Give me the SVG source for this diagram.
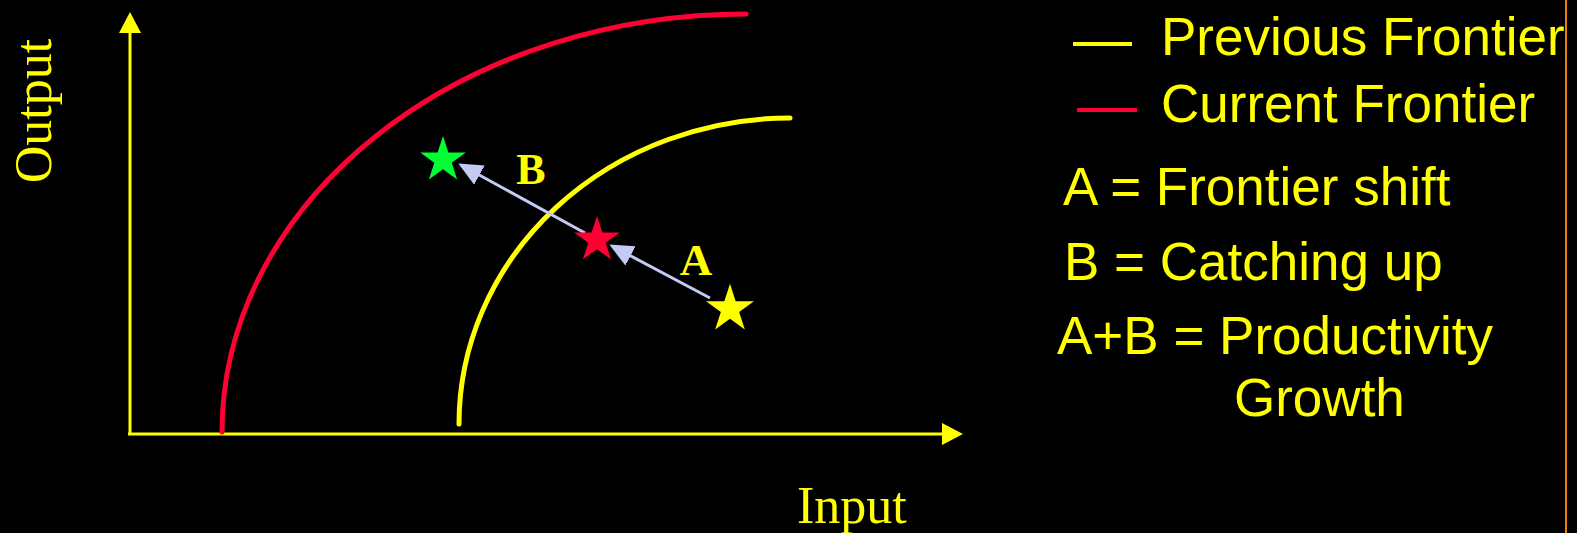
<svg xmlns="http://www.w3.org/2000/svg" width="1577" height="533" viewBox="0 0 1577 533">
<style>
.serif{font-family:"Liberation Serif","Times New Roman",serif;fill:#FFFF00}
.sans{font-family:"Liberation Sans",Arial,sans-serif;fill:#FFFF00;font-size:53px}
.axis{stroke:#FFFF00;stroke-width:3;fill:none}
.arr{stroke:#C3CAF5;stroke-width:3;fill:none;marker-end:url(#ah)}
.curve{stroke-width:5;fill:none;stroke-linecap:round}
</style>
<defs>
<polygon id="star" points="0,-24 5.39,-7.42 22.83,-7.42 8.72,2.83 14.11,19.42 0,9.17 -14.11,19.42 -8.72,2.83 -22.83,-7.42 -5.39,-7.42"/>
<marker id="ah" markerUnits="userSpaceOnUse" markerWidth="26" markerHeight="24" refX="21" refY="11" orient="auto">
<path d="M0,0 L24,11 L0,22 z" fill="#C3CAF5"/>
</marker>
</defs>
<rect width="1577" height="533" fill="#000"/>
<line x1="1566" y1="0" x2="1566" y2="533" stroke="#E8820C" stroke-width="2"/>
<g id="axes">
<line class="axis" x1="130" y1="434" x2="130" y2="32"/>
<polygon points="130,12 119,33 141,33" fill="#FFFF00"/>
<line class="axis" x1="128" y1="434" x2="943" y2="434"/>
<polygon points="963,434 942,423 942,445" fill="#FFFF00"/>
<text class="serif" font-size="52" x="797" y="523">Input</text>
<text class="serif" font-size="52" text-anchor="middle" transform="translate(51,111) rotate(-90)">Output</text>
</g>
<g id="current-frontier">
<path class="curve" d="M222,432 A524,418 0 0 1 746,14" stroke="#FF0033"/>
</g>
<g id="previous-frontier">
<path class="curve" d="M459,424 A331,306 0 0 1 790,118" stroke="#FFFF00"/>
</g>
<g id="connectors">
<line class="arr" x1="710" y1="298" x2="612" y2="246"/>
<line class="arr" x1="585" y1="233" x2="461" y2="165"/>
<text class="serif" font-size="45" font-weight="bold" x="696" y="275" text-anchor="middle">A</text>
<text class="serif" font-size="44" font-weight="bold" x="531" y="184" text-anchor="middle">B</text>
</g>
<g id="star-green"><use href="#star" transform="translate(443,160)" fill="#00FF33"/></g>
<g id="star-red"><use href="#star" transform="translate(597,240)" fill="#FF0033"/></g>
<g id="star-yellow"><use href="#star" transform="translate(730,309) scale(1.05)" fill="#FFFF00"/></g>
<g id="legend">
<line x1="1073" y1="44" x2="1132" y2="44" stroke="#FFFF00" stroke-width="4"/>
<text class="sans" x="1161" y="55">Previous Frontier</text>
<line x1="1077" y1="110" x2="1137" y2="110" stroke="#FF0033" stroke-width="4"/>
<text class="sans" x="1161" y="122">Current Frontier</text>
<text class="sans" x="1063" y="205">A = Frontier shift</text>
<text class="sans" x="1064" y="280">B = Catching up</text>
<text class="sans" x="1057" y="354">A+B = Productivity</text>
<text class="sans" x="1234" y="416">Growth</text>
</g>
</svg>
